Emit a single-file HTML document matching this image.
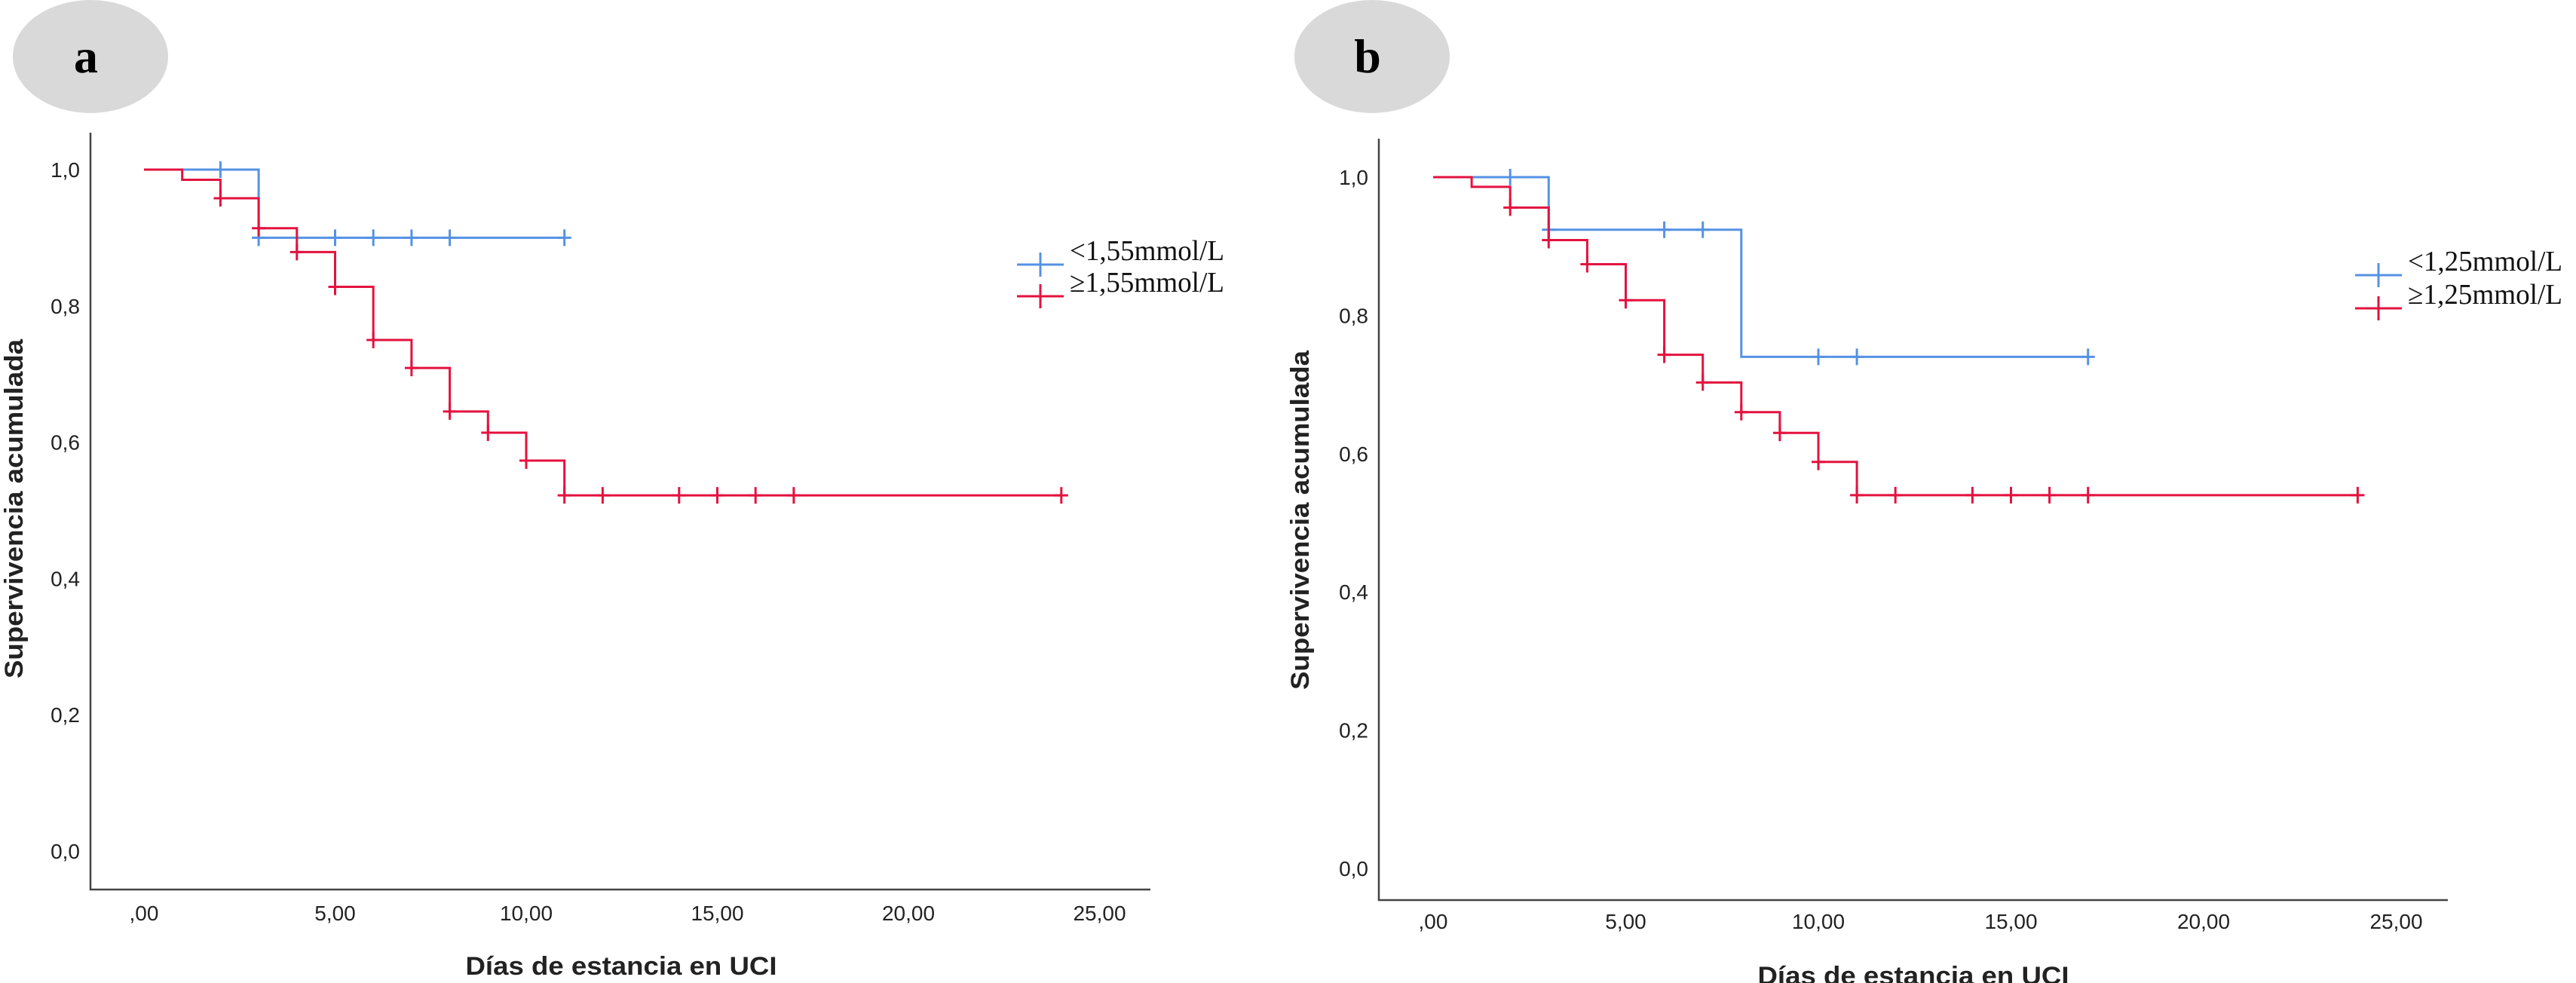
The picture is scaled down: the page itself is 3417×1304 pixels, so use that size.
<!DOCTYPE html>
<html><head><meta charset="utf-8"><style>
html,body{margin:0;padding:0;background:#fff;}
svg{display:block;}
.tick{font-family:"Liberation Sans",sans-serif;font-size:28px;fill:#222;}
.title{font-family:"Liberation Sans",sans-serif;font-weight:bold;font-size:34px;fill:#222;}
.leg{font-family:"Liberation Serif",serif;font-size:38px;fill:#111;}
.lab{font-family:"Liberation Serif",serif;font-weight:bold;font-size:64px;fill:#000;}
</style></head><body>
<svg id="chart" width="3417" height="1304" viewBox="0 0 3417 1304" xmlns="http://www.w3.org/2000/svg"></svg>
<script>
// Panel a data
const aBlueSteps=[[0,1.0],[3,0.9],[11,0.9]];
const aBlueCens=[[2,1.0],[3,0.9],[5,0.9],[6,0.9],[7,0.9],[8,0.9],[11,0.9]];
const aRedSteps=[[0,1.0],[1,0.985],[2,0.958],[3,0.914],[4,0.879],[5,0.828],[6,0.75],[7,0.709],[8,0.645],[9,0.614],[10,0.573],[11,0.522],[24,0.522]];
const aRedCens=[[2,0.958],[3,0.914],[4,0.879],[5,0.828],[6,0.75],[7,0.709],[8,0.645],[9,0.614],[10,0.573],[11,0.522],[12,0.522],[14,0.522],[15,0.522],[16,0.522],[17,0.522],[24,0.522]];
const aLegend=["<1,55mmol/L","≥1,55mmol/L"];
// Panel b data
const bBlueSteps=[[0,1.0],[3,0.924],[8,0.74],[17,0.74]];
const bBlueCens=[[2,1.0],[3,0.924],[6,0.924],[7,0.924],[10,0.74],[11,0.74],[17,0.74]];
const bRedSteps=[[0,1.0],[1,0.986],[2,0.956],[3,0.909],[4,0.874],[5,0.822],[6,0.743],[7,0.703],[8,0.66],[9,0.63],[10,0.588],[11,0.54],[24,0.54]];
const bRedCens=[[2,0.956],[3,0.909],[4,0.874],[5,0.822],[6,0.743],[7,0.703],[8,0.66],[9,0.63],[10,0.588],[11,0.54],[12,0.54],[14,0.54],[15,0.54],[16,0.54],[17,0.54],[24,0.54]];
const bLegend=["<1,25mmol/L","≥1,25mmol/L"];
const yTicks=[0,0.2,0.4,0.6,0.8,1.0];
const yTickLabels=["0,0","0,2","0,4","0,6","0,8","1,0"];
const xTicks=[0,5,10,15,20,25];
const xTickLabels=[",00","5,00","10,00","15,00","20,00","25,00"];

const NS="http://www.w3.org/2000/svg";
const svg=document.getElementById('chart');
function mk(tag,attrs,parent,text){const e=document.createElementNS(NS,tag);for(const k in attrs)e.setAttribute(k,attrs[k]);if(text!==undefined)e.textContent=text;(parent||svg).appendChild(e);return e;}
const BLUE="#5592e4",RED="#e3123f";

function panel(cfg){
  const g=mk('g',{});
  
  
  const X=v=>cfg.x0+v*cfg.dx, Y=v=>cfg.y0-v*cfg.dy;
  const el=mk('ellipse',{cx:cfg.ecx,cy:75,rx:103,ry:75,fill:'#d9d9d9'},g);
  
  
  const lt=mk('text',{x:cfg.ecx-6,y:96,class:'lab','text-anchor':'middle'},g,cfg.letter);
  
  
  const ax=mk('path',{d:`M${cfg.axL} ${cfg.axT} V${cfg.axB} H${cfg.axR}`,stroke:'#444',fill:'none','stroke-width':2.5},g);
  
  
  yTicks.forEach((v,i)=>{const t=mk('text',{x:cfg.axL-14,y:Y(v)+10,class:'tick','text-anchor':'end'},g,yTickLabels[i]);
    
    });
  xTicks.forEach((v,i)=>{const t=mk('text',{x:X(v),y:cfg.xlY,class:'tick','text-anchor':'middle'},g,xTickLabels[i]);
    
    });
  const xt=mk('text',{x:cfg.xtX,y:cfg.xtY,class:'title','text-anchor':'middle',textLength:413,lengthAdjust:'spacingAndGlyphs'},g,'Días de estancia en UCI');
  
  
  const yt=mk('text',{x:0,y:0,class:'title','text-anchor':'middle',textLength:450,lengthAdjust:'spacingAndGlyphs',transform:`translate(${cfg.ytX},${cfg.ytY}) rotate(-90)`},g,'Supervivencia acumulada');
  
  
  function series(steps,cens,color,name){
    let d=`M${X(steps[0][0])} ${Y(steps[0][1])}`;
    for(let i=1;i<steps.length;i++){d+=` H${X(steps[i][0])} V${Y(steps[i][1])}`;}
    const p=mk('path',{d,stroke:color,fill:'none','stroke-width':3},g);
    
    
    cens.forEach(c=>{const cx=X(c[0]),cy=Y(c[1]);
      const m=mk('path',{d:`M${cx} ${cy-11} V${cy+11} M${cx-9} ${cy} H${cx+9}`,stroke:color,'stroke-width':3,fill:'none'},g);
      
      });
  }
  series(cfg.blue,cfg.blueC,BLUE,'low-group');
  series(cfg.red,cfg.redC,RED,'high-group');
  [[BLUE,cfg.legY1,cfg.legend[0]],[RED,cfg.legY2,cfg.legend[1]]].forEach((l,i)=>{
    const lg=mk('g',{},g);
    
    
    const lx=cfg.legX, ly=l[1], mx=lx+31;
    mk('path',{d:`M${lx} ${ly} H${lx+62} M${mx} ${ly-16} V${ly+16}`,stroke:l[0],'stroke-width':3,fill:'none'},lg);
    mk('text',{x:lx+70,y:ly-6,class:'leg',textLength:205,lengthAdjust:'spacingAndGlyphs'},lg,l[2]);
  });
}
panel({name:'panel-a',letter:'a',ecx:120,x0:191,dx:50.7,y0:1129,dy:904,axL:120,axT:176,axB:1180,axR:1526,xlY:1221,xtX:824,xtY:1293,ytX:30,ytY:675,
  blue:aBlueSteps,blueC:aBlueCens,red:aRedSteps,redC:aRedCens,legend:aLegend,legX:1349,legY1:351,legY2:393});
panel({name:'panel-b',letter:'b',ecx:1820,x0:1901,dx:51.1,y0:1152,dy:917,axL:1829,axT:184,axB:1194,axR:3247,xlY:1232,xtX:2538,xtY:1306,ytX:1736,ytY:690,
  blue:bBlueSteps,blueC:bBlueCens,red:bRedSteps,redC:bRedCens,legend:bLegend,legX:3124,legY1:365,legY2:409});
</script>
</body></html>
